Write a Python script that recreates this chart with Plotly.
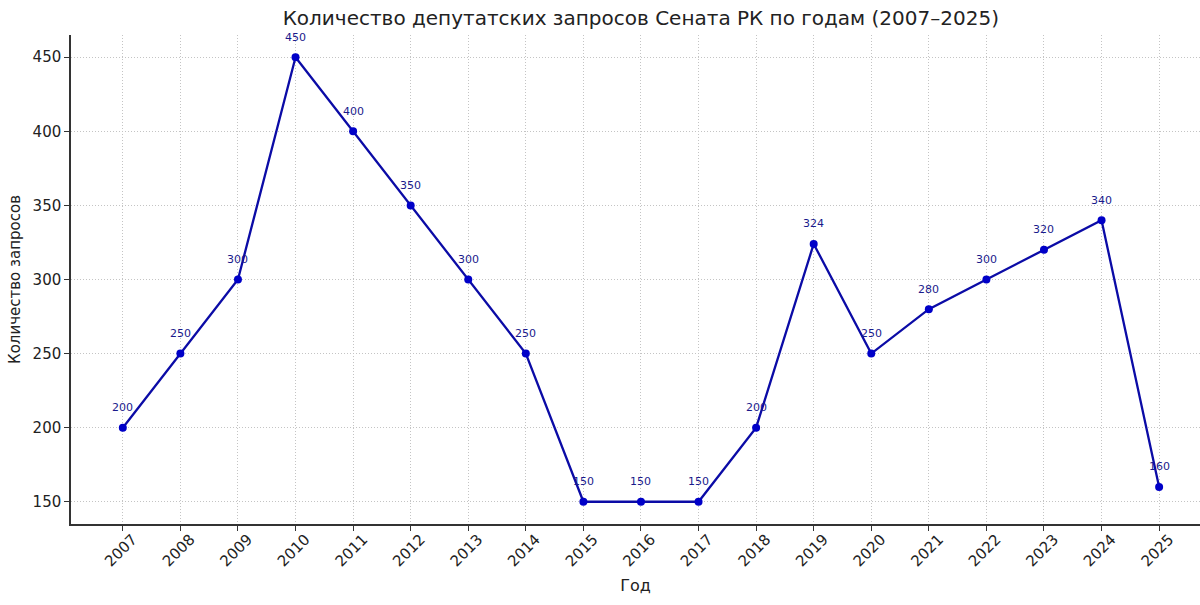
import plotly.graph_objects as go

years = list(range(2007, 2026))
values = [200, 250, 300, 450, 400, 350, 300, 250, 150, 150, 150, 200, 324, 250, 280, 300, 320, 340, 160]
labels = [str(v) for v in values]

title = "Количество депутатских запросов Сената РК по годам (2007–2025)"
x_title = "Год"
y_title = "Количество запросов"

fig = go.Figure()
fig.add_trace(go.Scatter(
    x=years, y=values, mode="lines+markers",
    line=dict(color="#0b0ba6", width=2.3),
    marker=dict(color="#0000c8", size=8),
    showlegend=False,
))
for x, y, t in zip(years, values, labels):
    fig.add_annotation(x=x, y=y, text=t, showarrow=False, yshift=20,
                       font=dict(family="DejaVu Sans", size=11, color="#1a1a8c"))

fig.update_layout(
    width=1200, height=605,
    margin=dict(l=71, r=0, t=35, b=81),
    paper_bgcolor="white", plot_bgcolor="white",
    font=dict(family="DejaVu Sans", color="#222"),
    title=dict(text=title, x=0.534, xanchor="center", y=0.97, yanchor="middle",
               font=dict(size=20, color="#222")),
)
fig.update_xaxes(
    range=[2006.1, 2025.71], tickmode="array", tickvals=years, ticktext=[str(y) for y in years],
    tickangle=-45, tickfont=dict(size=15, color="#222"), ticklabelshift=10, ticklabelstandoff=-6,
    showgrid=True, gridcolor="#c4c4c4", griddash="1px,2px", gridwidth=1,
    showline=True, linecolor="#333", linewidth=1.5,
    ticks="outside", ticklen=5, tickcolor="#333",
    zeroline=False,
    title=dict(text=x_title, font=dict(size=16, color="#222"), standoff=10),
)
fig.update_yaxes(
    range=[135, 465], tickvals=[150, 200, 250, 300, 350, 400, 450],
    tickfont=dict(size=15, color="#222"),
    showgrid=True, gridcolor="#c4c4c4", griddash="1px,2px", gridwidth=1,
    showline=True, linecolor="#333", linewidth=1.5,
    ticks="outside", ticklen=5, tickcolor="#333",
    zeroline=False,
    title=dict(text=y_title, font=dict(size=15, color="#222"), standoff=8),
)

fig.write_html("out.html")
